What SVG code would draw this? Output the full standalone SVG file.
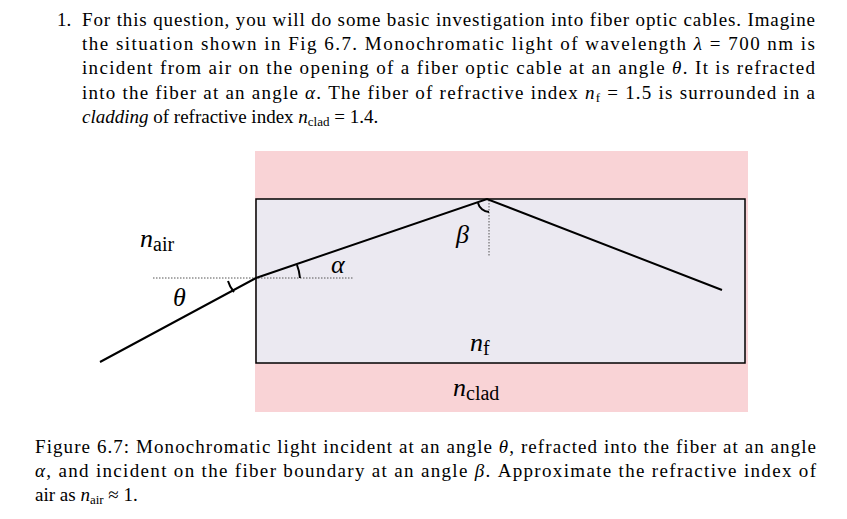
<svg xmlns="http://www.w3.org/2000/svg" width="847" height="519" viewBox="0 0 847 519">
<style>
text{font-family:"Liberation Serif","DejaVu Serif",serif;font-size:19px;fill:#000}
.i{font-style:italic}
.m{font-size:26px;font-style:italic}
.s{font-size:20px}
.ray{stroke:#000;stroke-width:2;fill:none}
.dot{stroke:#555;stroke-width:1;stroke-dasharray:1.5 1.5;fill:none}
</style>
<rect width="847" height="519" fill="#fff"/>
<g id="question">
<text x="57" y="26">1.</text>
<text x="82" y="26" textLength="733" lengthAdjust="spacing">For this question, you will do some basic investigation into fiber optic cables. Imagine</text>
<text x="82" y="50" textLength="733" lengthAdjust="spacing">the situation shown in Fig 6.7. Monochromatic light of wavelength <tspan class="i">λ</tspan> = 700 nm is</text>
<text x="82" y="74" textLength="733" lengthAdjust="spacing">incident from air on the opening of a fiber optic cable at an angle <tspan class="i">θ</tspan>. It is refracted</text>
<text x="82" y="99" textLength="733" lengthAdjust="spacing">into the fiber at an angle <tspan class="i">α</tspan>. The fiber of refractive index <tspan class="i">n</tspan><tspan font-size="13" dy="3">f</tspan><tspan dy="-3"> = 1.5 is surrounded in a</tspan></text>
<text x="82" y="123"><tspan class="i">cladding</tspan> of refractive index <tspan class="i">n</tspan><tspan font-size="13" dy="3">clad</tspan><tspan dy="-3"> = 1.4.</tspan></text>
</g>
<g id="cladding"><rect x="255" y="151" width="493" height="261" fill="#f9d3d6"/></g>
<g id="fiber"><rect x="256" y="199" width="489" height="164" fill="#ebe9f1" stroke="#000" stroke-width="1.5"/></g>
<g id="connectors">
<line class="dot" x1="153" y1="278" x2="354" y2="278"/>
<line class="dot" x1="489" y1="200" x2="489" y2="257"/>
<polyline class="ray" points="100,362 256,278 487,199 722,290"/>
<path d="M228,281 A29,29 0 0 0 234,292" class="ray" stroke-width="1.3"/>
<path d="M297,265 A44,44 0 0 1 300,278" class="ray" stroke-width="1.3"/>
<path d="M478,203 A12,12 0 0 0 489,212" class="ray" stroke-width="1.3"/>
</g>
<g id="labels">
<text class="m" x="140" y="247">n<tspan class="s" font-style="normal" dy="4">air</tspan></text>
<text class="m" x="173" y="306">θ</text>
<text class="m" x="331" y="273">α</text>
<text class="m" x="456" y="243">β</text>
<text class="m" x="470" y="351">n<tspan class="s" font-style="normal" dy="4">f</tspan></text>
<text class="m" x="453" y="396">n<tspan class="s" font-style="normal" dy="4">clad</tspan></text>
</g>
<g id="caption">
<text x="35" y="453" textLength="781" lengthAdjust="spacing">Figure 6.7: Monochromatic light incident at an angle <tspan class="i">θ</tspan>, refracted into the fiber at an angle</text>
<text x="35" y="477" textLength="781" lengthAdjust="spacing"><tspan class="i">α</tspan>, and incident on the fiber boundary at an angle <tspan class="i">β</tspan>. Approximate the refractive index of</text>
<text x="35" y="501">air as <tspan class="i">n</tspan><tspan font-size="13" dy="3">air</tspan><tspan dy="-3"> ≈ 1.</tspan></text>
</g>
</svg>
